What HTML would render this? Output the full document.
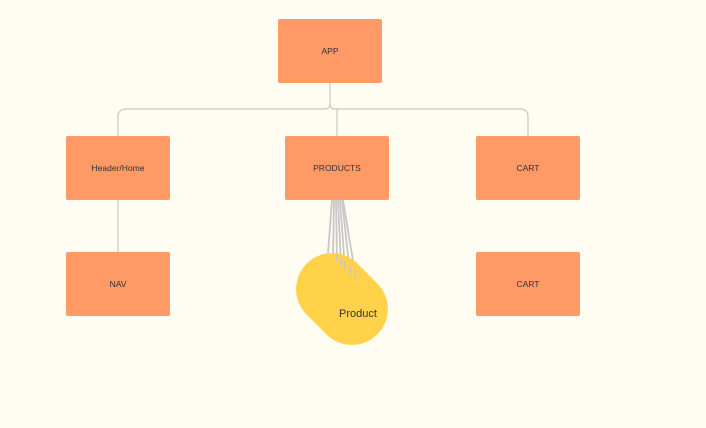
<!DOCTYPE html>
<html><head><style>
body{margin:0;width:706px;height:428px;background:#fffcf1;position:relative;overflow:hidden;font-family:"Liberation Sans",sans-serif}
.b{position:absolute;width:104px;height:64px;background:#ff9966;border-radius:2px;display:flex;align-items:center;justify-content:center;font-size:8.5px;color:#333}
</style></head><body>
<svg width="706" height="428" style="position:absolute;left:0;top:0">
<g fill="none" stroke="#c8c8c8" stroke-width="1.2">
<path d="M330 83 V104 Q330 109 325 109 H126 Q118 109 118 117 V136"/>
<path d="M330 104 Q330 109 335 109 H520 Q528 109 528 117 V136"/>
<path d="M337 109 V136"/>
<path d="M118 200 V252"/>
</g>
<g stroke="#c8c8c8" stroke-width="1.8">
<line x1="332" y1="200" x2="328" y2="253"/>
<line x1="334" y1="200" x2="333" y2="257"/>
<line x1="336" y1="200" x2="337" y2="261"/>
<line x1="338" y1="200" x2="341" y2="265"/>
<line x1="340" y1="200" x2="345" y2="269"/>
<line x1="342" y1="200" x2="350" y2="274"/>
<line x1="343" y1="200" x2="356" y2="279"/>
</g>
<rect x="292" y="263" width="100" height="72" rx="36" fill="#ffd24a" transform="rotate(45 342 299)"/>
<g stroke="#c8c8c8" stroke-width="1.8">
<line x1="337" y1="255" x2="337" y2="261"/>
<line x1="341" y1="258" x2="341" y2="265"/>
<line x1="345" y1="261" x2="345" y2="269"/>
<line x1="350" y1="265" x2="350" y2="274"/>
<line x1="355" y1="270" x2="356" y2="279"/>
</g>
<text x="339" y="317" font-family="Liberation Sans,sans-serif" font-size="11" fill="#333">Product</text>
</svg>
<div class="b" style="left:278px;top:19px">APP</div>
<div class="b" style="left:66px;top:136px">Header/Home</div>
<div class="b" style="left:285px;top:136px">PRODUCTS</div>
<div class="b" style="left:476px;top:136px">CART</div>
<div class="b" style="left:66px;top:252px">NAV</div>
<div class="b" style="left:476px;top:252px">CART</div>
</body></html>
